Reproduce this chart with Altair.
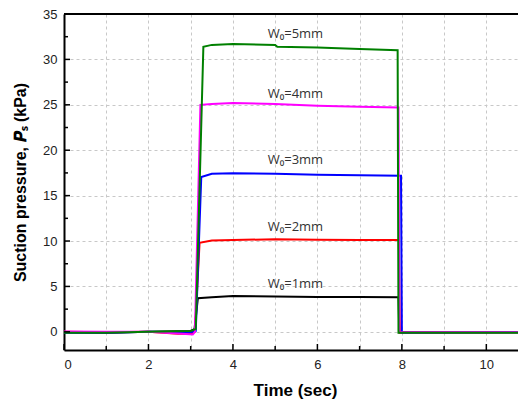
import altair as alt
import pandas as pd

# ---- data ----
series_names = ["W0=1mm", "W0=2mm", "W0=3mm", "W0=4mm", "W0=5mm"]
series_colors = ["#000000", "#ff0000", "#0000ff", "#ff00ff", "#008000"]

t_1mm = [0, 1, 2, 3.0, 3.09, 3.17, 3.5, 4.0, 5.0, 6.0, 7.0, 7.92, 7.94, 8.5, 11]
v_1mm = [-0.05, -0.1, 0.0, 0.1, 0.3, 3.7, 3.8, 3.95, 3.9, 3.85, 3.85, 3.8, -0.05, -0.05, -0.05]

t_2mm = [0, 1, 2, 2.7, 3.0, 3.1, 3.21, 3.5, 4, 5, 6, 7, 7.93, 7.95, 11]
v_2mm = [0, -0.05, 0, -0.2, -0.2, 0.0, 9.8, 10.05, 10.1, 10.2, 10.15, 10.1, 10.1, -0.1, -0.05]

t_3mm = [0, 1, 2, 3.0, 3.12, 3.25, 3.5, 4, 5, 6, 7, 7.98, 8.0, 11]
v_3mm = [-0.1, -0.1, 0, -0.05, 0.1, 17.05, 17.4, 17.45, 17.4, 17.3, 17.25, 17.2, -0.1, -0.05]

t_4mm = [0, 1, 2, 2.8, 3.05, 3.1, 3.23, 3.5, 4, 5, 6, 7, 7.92, 7.94, 11]
v_4mm = [0.05, 0, 0, -0.2, -0.3, 0, 25.0, 25.1, 25.2, 25.1, 24.9, 24.8, 24.7, -0.05, -0.05]

t_5mm = [0, 1, 2, 3.0, 3.12, 3.3, 3.5, 4, 5, 5.05, 6, 7, 7.9, 7.92, 11]
v_5mm = [-0.1, -0.1, 0, 0.1, 0.3, 31.4, 31.6, 31.7, 31.6, 31.4, 31.3, 31.15, 31.0, -0.1, -0.1]

series_t = [t_1mm, t_2mm, t_3mm, t_4mm, t_5mm]
series_v = [v_1mm, v_2mm, v_3mm, v_4mm, v_5mm]

label_texts = ["W₀=1mm", "W₀=2mm", "W₀=3mm", "W₀=4mm", "W₀=5mm"]
label_t = [5.48, 5.48, 5.48, 5.48, 5.48]
label_v = [5.3, 11.5, 18.9, 26.2, 32.75]

x_major = [0, 2, 4, 6, 8, 10]
x_minor = [1, 3, 5, 7, 9]
x_grid = [0, 1, 2, 3, 4, 5, 6, 7, 8, 9, 10]
y_major = [0, 5, 10, 15, 20, 25, 30, 35]
y_minor = [2.5, 7.5, 12.5, 17.5, 22.5, 27.5, 32.5]
y_grid = [0, 2.5, 5, 7.5, 10, 12.5, 15, 17.5, 20, 22.5, 25, 27.5, 30, 32.5, 35]

X_DOMAIN = [0, 10.75]
Y_DOMAIN = [-2, 35]
W, H = 454, 336
FONT = "Liberation Sans"

xscale = alt.Scale(domain=X_DOMAIN, nice=False, zero=False)
yscale = alt.Scale(domain=Y_DOMAIN, nice=False, zero=False)

x_axis = alt.Axis(
    values=x_grid, labelExpr="datum.value % 2 == 0 ? datum.label : ''",
    ticks=False, grid=True, gridDash=[3, 3], gridColor="#c8c8c8", gridWidth=1,
    domainColor="#000000", domainWidth=2, labelFont=FONT, labelFontSize=13,
    labelColor="#222222", labelPadding=8, title="Time (sec)", titleFont=FONT,
    titleFontSize=17, titleFontWeight="bold", titleColor="#000000",
    titleX=(526 - 64) / 2, titleY=40, titleBaseline="middle",
)
y_axis = alt.Axis(
    values=y_grid, labelExpr="datum.value % 5 == 0 ? datum.label : ''",
    ticks=False, grid=True, gridDash=[3, 3], gridColor="#c8c8c8", gridWidth=1,
    domainColor="#000000", domainWidth=2, labelFont=FONT, labelFontSize=13,
    labelColor="#222222", labelPadding=7, title="Suction pressure, 𝑷ₛ (kPa)",
    titleFont=FONT, titleFontSize=16, titleFontWeight="bold", titleColor="#000000",
    titleX=-44, titleY=H / 2, titleBaseline="middle", titleAngle=-90,
)

layers = []
frames = []
for name, ts, vs in zip(series_names, series_t, series_v):
    frames.append(pd.DataFrame({"t": ts, "v": vs, "s": name}))
all_df = pd.concat(frames, ignore_index=True)

base = alt.Chart(all_df).mark_point(opacity=0, clip=True).encode(
    x=alt.X("t:Q", scale=xscale, axis=x_axis),
    y=alt.Y("v:Q", scale=yscale, axis=y_axis),
)
layers.append(base)

for name, col, ts, vs in zip(series_names, series_colors, series_t, series_v):
    df = pd.DataFrame({"t": ts, "v": vs})
    layers.append(
        alt.Chart(df).mark_line(color=col, strokeWidth=2, clip=True).encode(
            x=alt.X("t:Q", scale=xscale), y=alt.Y("v:Q", scale=yscale)
        )
    )

lab_df = pd.DataFrame({"t": label_t, "v": label_v, "txt": label_texts})
layers.append(
    alt.Chart(lab_df).mark_text(font="Open Sans", fontSize=13, color="#333333",
                                baseline="middle", align="center").encode(
        x=alt.X("t:Q", scale=xscale), y=alt.Y("v:Q", scale=yscale), text="txt:N"
    )
)

# inward ticks
layers.append(
    alt.Chart(pd.DataFrame({"t": x_major})).mark_rule(color="#000", strokeWidth=1.5).encode(
        x=alt.X("t:Q", scale=xscale), y=alt.value(H), y2=alt.value(H - 6)
    )
)
layers.append(
    alt.Chart(pd.DataFrame({"t": x_minor})).mark_rule(color="#000", strokeWidth=1.5).encode(
        x=alt.X("t:Q", scale=xscale), y=alt.value(H), y2=alt.value(H - 4)
    )
)
layers.append(
    alt.Chart(pd.DataFrame({"v": y_major})).mark_rule(color="#000", strokeWidth=1.5).encode(
        y=alt.Y("v:Q", scale=yscale), x=alt.value(0), x2=alt.value(6)
    )
)
layers.append(
    alt.Chart(pd.DataFrame({"v": y_minor})).mark_rule(color="#000", strokeWidth=1.5).encode(
        y=alt.Y("v:Q", scale=yscale), x=alt.value(0), x2=alt.value(4)
    )
)
# top frame line
layers.append(
    alt.Chart(pd.DataFrame({"a": [0]})).mark_rule(color="#000", strokeWidth=2).encode(
        x=alt.value(0), x2=alt.value(W), y=alt.value(0)
    )
)

chart = alt.layer(*layers).properties(
    width=W, height=H,
    autosize=alt.AutoSizeParams(type="none"),
    padding={"left": 56, "top": 6, "right": 0, "bottom": 49},
).configure_view(stroke=None).configure(background="white")

chart.save("out.html", embed_options={"renderer": "svg", "actions": False})
